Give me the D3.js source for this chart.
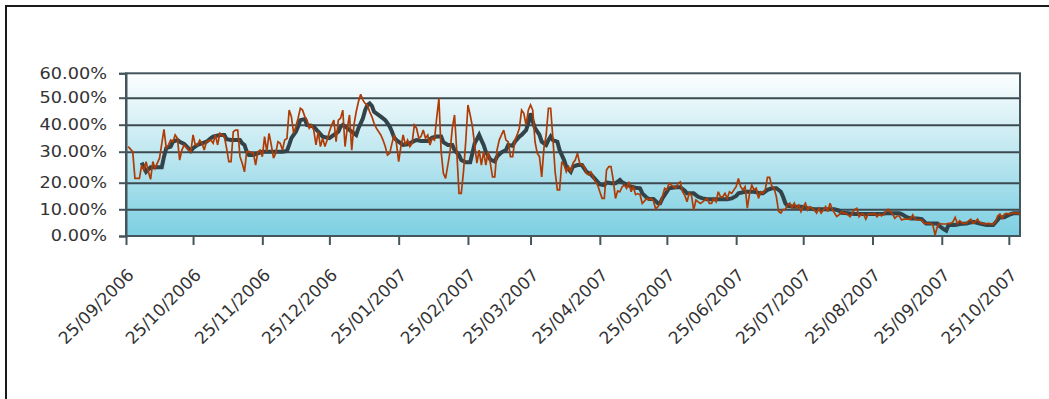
<!DOCTYPE html>
<html><head><meta charset="utf-8">
<script src="https://cdn.jsdelivr.net/npm/d3@7"></script>
<style>
html,body{margin:0;padding:0;background:#fff;}
svg{display:block;}
text{font-family:"DejaVu Sans",Verdana,sans-serif;fill:#333;}
</style></head>
<body>
<svg id="chart" width="1049" height="399"></svg>
<script>
// ---------- data ----------
const tickDates = ["2006-09-25","2006-10-25","2006-11-25","2006-12-25","2007-01-25","2007-02-25","2007-03-25","2007-04-25","2007-05-25","2007-06-25","2007-07-25","2007-08-25","2007-09-25","2007-10-25"];
const yTickValues = [0,10,20,30,40,50,60];

const orangeDates = ["2006-09-26","2006-09-28","2006-09-29","2006-10-01","2006-10-02","2006-10-03","2006-10-04","2006-10-05","2006-10-06","2006-10-07","2006-10-08","2006-10-09","2006-10-10","2006-10-12","2006-10-13","2006-10-14","2006-10-15","2006-10-16","2006-10-17","2006-10-18","2006-10-19","2006-10-20","2006-10-21","2006-10-23","2006-10-24","2006-10-25","2006-10-26","2006-10-27","2006-10-28","2006-10-29","2006-10-30","2006-10-31",
"2006-11-02","2006-11-03","2006-11-04","2006-11-05","2006-11-06","2006-11-07","2006-11-08","2006-11-09","2006-11-10","2006-11-11","2006-11-12","2006-11-13","2006-11-14","2006-11-15","2006-11-16","2006-11-17","2006-11-18","2006-11-19","2006-11-21","2006-11-22","2006-11-23","2006-11-24","2006-11-25","2006-11-26","2006-11-27","2006-11-28","2006-11-29","2006-11-30",
"2006-12-01","2006-12-02","2006-12-03","2006-12-04","2006-12-05","2006-12-06","2006-12-07","2006-12-08","2006-12-09","2006-12-10","2006-12-11","2006-12-12","2006-12-13","2006-12-14","2006-12-15","2006-12-16","2006-12-17","2006-12-18","2006-12-19","2006-12-20","2006-12-21","2006-12-22","2006-12-23","2006-12-24","2006-12-25","2006-12-26","2006-12-27","2006-12-28","2006-12-29","2006-12-30","2006-12-31",
"2007-01-01","2007-01-02","2007-01-03","2007-01-04","2007-01-05","2007-01-06","2007-01-07","2007-01-08","2007-01-09","2007-01-10","2007-01-11","2007-01-12","2007-01-13","2007-01-14","2007-01-15","2007-01-17","2007-01-18","2007-01-19","2007-01-20","2007-01-21","2007-01-22","2007-01-23","2007-01-24","2007-01-25","2007-01-26","2007-01-27","2007-01-28","2007-01-29","2007-01-30","2007-01-31",
"2007-02-01","2007-02-02","2007-02-03","2007-02-04","2007-02-05","2007-02-06","2007-02-07","2007-02-08","2007-02-09","2007-02-10","2007-02-11","2007-02-12","2007-02-13","2007-02-14","2007-02-15","2007-02-17","2007-02-18","2007-02-19","2007-02-20","2007-02-21","2007-02-22","2007-02-23","2007-02-24","2007-02-25","2007-02-26","2007-02-27",
"2007-03-01","2007-03-02","2007-03-03","2007-03-04","2007-03-05","2007-03-06","2007-03-07","2007-03-08","2007-03-09","2007-03-10","2007-03-11","2007-03-12","2007-03-13","2007-03-14","2007-03-15","2007-03-16","2007-03-17","2007-03-18","2007-03-19","2007-03-20","2007-03-21","2007-03-22","2007-03-23","2007-03-24","2007-03-25","2007-03-26","2007-03-27","2007-03-28","2007-03-29","2007-03-30","2007-03-31",
"2007-04-01","2007-04-02","2007-04-03","2007-04-04","2007-04-05","2007-04-06","2007-04-07","2007-04-08","2007-04-09","2007-04-10","2007-04-11","2007-04-12","2007-04-13","2007-04-14","2007-04-15","2007-04-16","2007-04-17","2007-04-18","2007-04-19","2007-04-20","2007-04-21","2007-04-22","2007-04-23","2007-04-24","2007-04-25","2007-04-26","2007-04-27","2007-04-28","2007-04-29","2007-04-30",
"2007-05-01","2007-05-02","2007-05-03","2007-05-04","2007-05-05","2007-05-06","2007-05-07","2007-05-08","2007-05-09","2007-05-10","2007-05-11","2007-05-12","2007-05-13","2007-05-14","2007-05-16","2007-05-17","2007-05-18","2007-05-19","2007-05-20","2007-05-21","2007-05-22","2007-05-23","2007-05-24","2007-05-25","2007-05-26","2007-05-27","2007-05-28","2007-05-29","2007-05-30","2007-05-31",
"2007-06-01","2007-06-02","2007-06-03","2007-06-04","2007-06-05","2007-06-06","2007-06-07","2007-06-08","2007-06-09","2007-06-10","2007-06-12","2007-06-13","2007-06-14","2007-06-15","2007-06-16","2007-06-17","2007-06-18","2007-06-19","2007-06-20","2007-06-21","2007-06-22","2007-06-23","2007-06-24","2007-06-25","2007-06-26","2007-06-27","2007-06-28","2007-06-29","2007-06-30",
"2007-07-01","2007-07-02","2007-07-03","2007-07-04","2007-07-05","2007-07-06","2007-07-07","2007-07-08","2007-07-09","2007-07-10","2007-07-11","2007-07-12","2007-07-13","2007-07-14","2007-07-15","2007-07-16","2007-07-17","2007-07-18","2007-07-19","2007-07-20","2007-07-21","2007-07-22","2007-07-23","2007-07-24","2007-07-25","2007-07-26","2007-07-27","2007-07-28","2007-07-29","2007-07-30","2007-07-31",
"2007-08-01","2007-08-02","2007-08-03","2007-08-04","2007-08-05","2007-08-06","2007-08-07","2007-08-08","2007-08-09","2007-08-10","2007-08-11","2007-08-12","2007-08-13","2007-08-15","2007-08-16","2007-08-17","2007-08-18","2007-08-19","2007-08-20","2007-08-21","2007-08-22","2007-08-23","2007-08-25","2007-08-26","2007-08-27","2007-08-28","2007-08-29","2007-08-30","2007-08-31",
"2007-09-01","2007-09-03","2007-09-04","2007-09-05","2007-09-06","2007-09-07","2007-09-08","2007-09-09","2007-09-11","2007-09-12","2007-09-13","2007-09-14","2007-09-16","2007-09-17","2007-09-20","2007-09-21","2007-09-22","2007-09-23","2007-09-24","2007-09-25","2007-09-27","2007-09-28","2007-09-29","2007-09-30",
"2007-10-01","2007-10-02","2007-10-03","2007-10-04","2007-10-05","2007-10-06","2007-10-07","2007-10-08","2007-10-09","2007-10-10","2007-10-11","2007-10-12","2007-10-13","2007-10-14","2007-10-16","2007-10-18","2007-10-19","2007-10-20","2007-10-21","2007-10-22","2007-10-23","2007-10-24","2007-10-25","2007-10-27","2007-10-28","2007-10-30"];

const orangeValues = [31.9,30.0,21.4,21.4,25.7,24.1,26.8,23.5,21.1,26.8,24.6,26.3,27.9,38.3,31.3,32.5,34.3,33.7,36.2,35.0,27.3,30.6,32.5,30.6,30.0,36.2,32.5,32.5,34.3,33.1,30.6,33.7,
34.3,33.1,36.2,32.5,36.8,36.2,35.6,31.3,26.8,26.8,37.4,38.0,38.0,28.4,26.3,23.5,30.0,30.0,29.5,25.7,30.0,30.6,28.4,35.6,30.0,36.8,32.5,27.9,
29.5,33.7,33.1,30.6,34.3,34.9,45.4,43.0,36.8,39.3,42.4,46.1,45.4,43.0,41.7,38.7,39.9,38.0,32.5,37.4,31.9,35.0,31.9,34.3,37.4,39.9,41.7,33.7,41.7,42.4,45.4,
31.9,38.7,43.6,30.6,39.9,44.8,48.5,51.4,49.1,47.9,47.3,44.8,43.0,40.5,38.7,36.2,34.3,31.9,28.9,29.5,33.1,36.2,33.1,26.8,31.9,36.2,32.5,34.3,31.9,33.1,
39.9,38.7,35.0,35.6,38.0,35.0,36.2,32.5,35.0,34.3,42.4,49.8,30.0,23.0,21.4,30.0,38.7,43.6,30.0,16.0,16.0,23.5,33.7,47.3,43.6,39.3,
26.3,30.6,25.7,30.0,25.7,30.0,26.3,21.9,21.9,30.6,34.3,36.2,38.0,34.3,33.7,28.4,28.4,34.3,36.2,38.7,45.4,44.2,39.9,45.4,47.3,45.4,33.7,29.5,28.4,21.9,31.3,
36.2,46.1,46.1,35.0,23.5,17.3,17.3,26.8,25.7,23.5,25.2,23.5,26.3,27.3,29.5,26.3,25.7,25.2,23.0,22.5,23.5,21.9,20.3,19.1,16.6,14.1,14.1,24.1,25.2,25.2,
20.9,14.1,16.9,16.6,18.5,19.1,17.9,20.3,16.6,18.5,15.5,15.9,15.5,12.2,14.1,13.5,14.1,13.1,10.1,11.0,12.2,14.7,17.9,17.3,19.8,19.1,18.5,17.9,19.8,20.3,
16.6,15.3,12.8,16.0,15.3,9.7,13.5,12.8,12.2,12.8,14.1,12.2,12.2,14.1,12.8,16.6,14.7,14.7,16.0,14.1,16.6,16.0,17.3,18.5,21.4,18.5,17.3,18.5,10.4,
16.0,19.1,17.3,17.9,14.1,16.6,16.0,17.3,21.7,21.7,18.5,17.9,14.7,9.2,8.6,9.9,10.0,11.6,12.3,10.4,12.3,10.4,11.6,9.1,11.0,12.3,9.7,11.0,10.4,9.7,8.6,
10.4,8.6,9.7,11.0,9.1,12.3,10.0,8.6,7.3,7.9,9.1,8.6,8.6,7.2,8.6,9.9,10.4,7.2,8.2,8.2,6.3,8.2,8.2,8.5,7.2,8.2,7.5,8.2,9.1,
10.0,8.2,6.6,7.5,7.5,6.0,6.3,6.3,6.3,7.9,6.3,6.0,6.0,4.7,4.7,4.1,0.4,3.5,4.7,4.5,4.5,4.7,4.7,5.3,
7.0,4.7,5.7,5.0,4.7,4.7,5.7,6.3,4.7,5.3,6.3,5.0,4.7,4.5,4.7,4.4,5.3,7.5,8.2,6.6,8.2,8.5,8.2,8.7,8.5,8.5];

const grayDates = ["2006-10-02","2006-10-04","2006-10-06","2006-10-11","2006-10-12","2006-10-13","2006-10-15","2006-10-16","2006-10-18","2006-10-19","2006-10-21","2006-10-22","2006-10-24","2006-10-25","2006-10-27","2006-10-29","2006-10-31",
"2006-11-02","2006-11-03","2006-11-06","2006-11-08","2006-11-09","2006-11-11","2006-11-15","2006-11-16","2006-11-17","2006-11-18","2006-11-19","2006-11-21","2006-11-23","2006-11-25",
"2006-12-04","2006-12-06","2006-12-07","2006-12-08","2006-12-09","2006-12-10","2006-12-11","2006-12-12","2006-12-14","2006-12-15","2006-12-18","2006-12-20","2006-12-22","2006-12-25","2006-12-27","2006-12-29","2006-12-30","2006-12-31",
"2007-01-02","2007-01-04","2007-01-06","2007-01-07","2007-01-08","2007-01-09","2007-01-10","2007-01-11","2007-01-12","2007-01-13","2007-01-14","2007-01-15","2007-01-17","2007-01-19","2007-01-21","2007-01-22","2007-01-23","2007-01-24","2007-01-26","2007-01-27","2007-01-29","2007-01-30",
"2007-02-01","2007-02-02","2007-02-04","2007-02-07","2007-02-09","2007-02-11","2007-02-13","2007-02-14","2007-02-16","2007-02-18","2007-02-19","2007-02-21","2007-02-22","2007-02-24","2007-02-26","2007-02-27","2007-02-28",
"2007-03-02","2007-03-03","2007-03-04","2007-03-05","2007-03-07","2007-03-09","2007-03-10","2007-03-12","2007-03-14","2007-03-15","2007-03-17","2007-03-18","2007-03-20","2007-03-21","2007-03-23","2007-03-24","2007-03-25","2007-03-26","2007-03-27","2007-03-29","2007-03-30",
"2007-04-01","2007-04-02","2007-04-03","2007-04-04","2007-04-06","2007-04-07","2007-04-09","2007-04-10","2007-04-12","2007-04-13","2007-04-15","2007-04-17","2007-04-18","2007-04-19","2007-04-21","2007-04-22","2007-04-24","2007-04-25","2007-04-27","2007-04-28","2007-04-30",
"2007-05-02","2007-05-04","2007-05-05","2007-05-06","2007-05-09","2007-05-11","2007-05-13","2007-05-14","2007-05-16","2007-05-17","2007-05-19","2007-05-21","2007-05-22","2007-05-23","2007-05-25","2007-05-26","2007-05-29","2007-05-31",
"2007-06-02","2007-06-03","2007-06-06","2007-06-08","2007-06-10","2007-06-12","2007-06-21","2007-06-23","2007-06-25","2007-06-26","2007-06-29",
"2007-07-03","2007-07-06","2007-07-07","2007-07-09","2007-07-11","2007-07-13","2007-07-15","2007-07-16","2007-07-17","2007-07-18","2007-07-21","2007-07-24","2007-07-27","2007-07-30",
"2007-08-08","2007-08-10","2007-08-11","2007-08-14","2007-08-17","2007-08-23","2007-08-29","2007-08-31",
"2007-09-06","2007-09-07","2007-09-09","2007-09-11","2007-09-14","2007-09-16","2007-09-18","2007-09-23","2007-09-24","2007-09-26","2007-09-27","2007-09-28",
"2007-10-01","2007-10-03","2007-10-06","2007-10-09","2007-10-12","2007-10-15","2007-10-18","2007-10-20","2007-10-21","2007-10-23","2007-10-25","2007-10-27","2007-10-30"];

const grayValues = [26.5,23.5,25.0,25.0,28.4,31.3,31.9,33.7,34.3,33.7,32.9,32.1,30.3,31.3,32.5,33.1,33.7,
35.0,35.6,36.2,36.2,34.6,34.3,34.3,33.1,32.5,30.0,28.9,28.9,29.5,30.0,
30.0,30.3,32.5,35.0,36.2,37.4,39.3,41.7,42.1,39.9,39.3,37.4,35.6,35.0,36.2,37.4,39.3,39.9,
38.7,37.4,36.2,38.7,40.5,42.4,45.4,47.3,47.9,47.0,44.8,44.2,43.0,41.7,39.3,37.4,35.2,34.3,33.1,32.5,32.7,33.1,
34.0,34.3,34.0,34.0,35.2,35.6,35.6,33.5,32.5,32.5,30.6,28.9,27.3,26.6,26.6,29.5,33.1,
36.2,34.3,32.5,30.0,27.5,26.8,28.4,29.8,30.6,32.5,32.2,33.7,35.6,36.2,38.0,40.5,44.2,41.1,38.7,36.2,33.7,
32.5,34.3,35.6,34.3,33.7,30.6,27.3,25.2,23.5,25.2,25.7,25.7,24.6,23.5,22.7,21.9,20.3,19.4,19.1,20.1,19.8,
19.8,20.9,20.1,19.8,18.5,18.1,17.9,16.0,14.4,13.9,13.9,12.3,12.3,14.1,16.6,17.9,18.3,18.3,
17.0,16.0,16.0,14.7,14.1,13.8,13.8,14.1,15.0,16.0,16.6,
16.6,16.0,16.0,17.3,17.9,17.9,16.6,14.7,12.3,11.3,11.0,11.0,10.4,10.0,
10.0,9.5,8.7,8.5,8.2,8.2,8.2,8.5,
8.5,8.2,7.2,6.6,6.6,6.3,4.7,4.7,3.7,2.5,2.0,4.1,
4.1,4.5,4.7,5.3,4.7,4.1,4.1,6.0,7.0,7.0,7.9,8.5,8.5];

// ---------- layout ----------
const plotLeft = 126, plotRight = 1020, plotTop = 73.3, plotBottom = 236;
const yTickPixels = [236, 209.3, 182.7, 151.7, 124.7, 97.7, 73.3];
const domainStart = "2006-09-25", domainEnd = "2007-10-30";

const parse = d3.timeParse("%Y-%m-%d");
const fmt = d3.timeFormat("%d/%m/%Y");

const svg = d3.select("#chart");

// outer frame
svg.append("rect").attr("x", 6).attr("y", 6).attr("width", 1200).attr("height", 600)
  .attr("fill", "none").attr("stroke", "#1a1a1a").attr("stroke-width", 2);

const x = d3.scaleTime().domain([parse(domainStart), parse(domainEnd)]).range([plotLeft, plotRight]);
const y = d3.scaleLinear().domain(yTickValues).range(yTickPixels);

// background gradient
const defs = svg.append("defs");
const grad = defs.append("linearGradient").attr("id", "bg").attr("x1", 0).attr("y1", 0).attr("x2", 0).attr("y2", 1);
grad.append("stop").attr("offset", "0%").attr("stop-color", "#fdfeff");
grad.append("stop").attr("offset", "45%").attr("stop-color", "#c4e9f1");
grad.append("stop").attr("offset", "100%").attr("stop-color", "#7ccfe2");

svg.append("rect").attr("x", plotLeft).attr("y", plotTop)
  .attr("width", plotRight - plotLeft).attr("height", plotBottom - plotTop)
  .attr("fill", "url(#bg)");

// grid lines
const grid = svg.append("g").attr("transform", `translate(${plotLeft},0)`)
  .call(d3.axisLeft(y).tickValues(yTickValues.slice(1, -1)).tickSize(-(plotRight - plotLeft)).tickFormat(""));
grid.select(".domain").remove();
grid.selectAll("line").attr("stroke", "#3b4a51").attr("stroke-width", 2);

// plot border
svg.append("rect").attr("x", plotLeft).attr("y", plotTop)
  .attr("width", plotRight - plotLeft).attr("height", plotBottom - plotTop)
  .attr("fill", "none").attr("stroke", "#45555c").attr("stroke-width", 2);

// y axis
const yAxis = svg.append("g").attr("transform", `translate(${plotLeft},0)`)
  .call(d3.axisLeft(y).tickValues(yTickValues).tickSize(7).tickPadding(12).tickFormat(""));
yAxis.select(".domain").attr("stroke", "#45555c").attr("stroke-width", 2);
yAxis.selectAll(".tick line").attr("stroke", "#45555c").attr("stroke-width", 2);

svg.append("g").selectAll("text").data(yTickValues).join("text")
  .attr("transform", d => `translate(107,${y(d)}) scale(1.18,1)`)
  .attr("text-anchor", "end").attr("dy", "0.36em")
  .style("font-size", "15px")
  .text(d => d3.format(".2f")(d) + "%");

// x axis
const xAxis = svg.append("g").attr("transform", `translate(0,${plotBottom})`)
  .call(d3.axisBottom(x).tickValues(tickDates.map(parse)).tickSize(9).tickFormat(""));
xAxis.select(".domain").remove();
xAxis.selectAll(".tick line").attr("stroke", "#45555c").attr("stroke-width", 2);

svg.append("g").selectAll("text").data(tickDates.map(parse)).join("text")
  .attr("transform", d => `translate(${x(d) + 9},276) rotate(-45)`)
  .attr("text-anchor", "end")
  .style("font-size", "17px")
  .text(d => fmt(d));

// series
const line = d3.line().x(d => x(d[0])).y(d => y(d[1]));
const grayData = grayDates.map((d, i) => [parse(d), grayValues[i]]);
const orangeData = orangeDates.map((d, i) => [parse(d), orangeValues[i]]);

svg.append("path").datum(grayData).attr("d", line)
  .attr("fill", "none").attr("stroke", "#33434a").attr("stroke-width", 4)
  .attr("stroke-linejoin", "miter").attr("stroke-miterlimit", 3);
svg.append("path").datum(orangeData).attr("d", line)
  .attr("fill", "none").attr("stroke", "#b03c05").attr("stroke-width", 1.7)
  .attr("stroke-linejoin", "miter").attr("stroke-miterlimit", 3);
</script>
</body></html>
